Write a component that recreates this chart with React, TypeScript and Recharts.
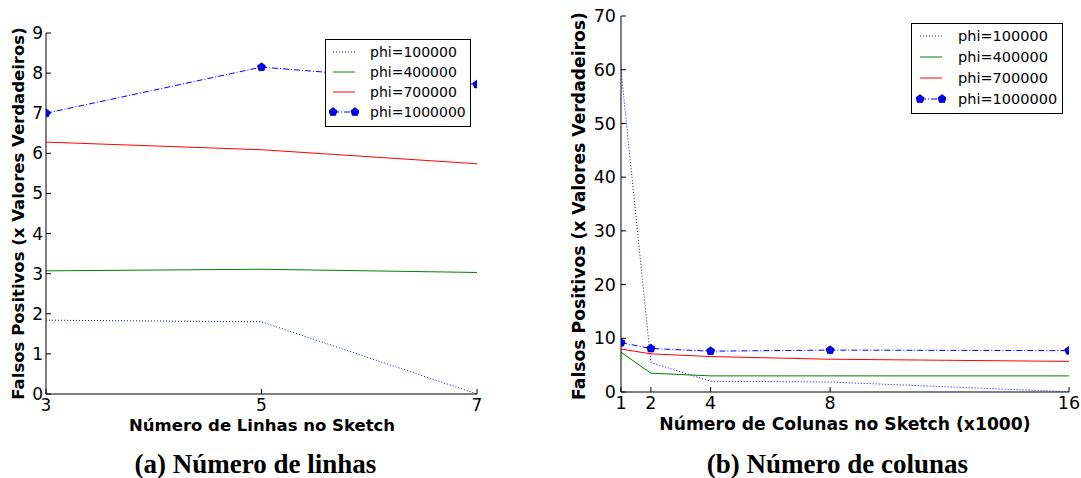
import { LineChart, Line, XAxis, YAxis, Legend } from 'recharts';

// ---- (a) Número de linhas ----
const linhas = [3, 5, 7];
const linhasPhi100k = [1.84, 1.8, 0.0];
const linhasPhi400k = [3.07, 3.11, 3.03];
const linhasPhi700k = [6.28, 6.09, 5.74];
const linhasPhi1M = [7.0, 8.15, 7.72];
const linhasYTicks = [0, 1, 2, 3, 4, 5, 6, 7, 8, 9];

// ---- (b) Número de colunas ----
const colunas = [1, 2, 4, 8, 16];
const colunasPhi100k = [60, 5.5, 2.0, 1.85, 0.05];
const colunasPhi400k = [7.4, 3.5, 3.0, 3.0, 3.0];
const colunasPhi700k = [8.0, 7.1, 6.6, 6.1, 5.7];
const colunasPhi1M = [9.2, 8.1, 7.6, 7.8, 7.7];
const colunasYTicks = [0, 10, 20, 30, 40, 50, 60, 70];

const seriesNames = ['phi=100000', 'phi=400000', 'phi=700000', 'phi=1000000'];

const FONT = '"DejaVu Sans", sans-serif';
const SERIF = '"Liberation Serif", "Times New Roman", serif';

const linhasData = linhas.map((x, i) => ({
  x,
  p100k: linhasPhi100k[i],
  p400k: linhasPhi400k[i],
  p700k: linhasPhi700k[i],
  p1M: linhasPhi1M[i],
}));

const colunasData = colunas.map((x, i) => ({
  x,
  p100k: colunasPhi100k[i],
  p400k: colunasPhi400k[i],
  p700k: colunasPhi700k[i],
  p1M: colunasPhi1M[i],
}));

function pentagonPoints(cx: number, cy: number, r: number) {
  return [0, 1, 2, 3, 4]
    .map((k) => {
      const a = ((-90 + k * 72) * Math.PI) / 180;
      return `${cx + r * Math.cos(a)},${cy + r * Math.sin(a)}`;
    })
    .join(' ');
}

function PentagonDot(props: any) {
  const { cx, cy, key } = props;
  if (cx == null || cy == null) return null;
  return (
    <polygon key={key} points={pentagonPoints(cx, cy, 4.4)} fill="#0000ff" stroke="#000040" strokeWidth={0.6} />
  );
}

/* legend sample: 30px wide svg, line runs 4..26 */
function Sample({ index }: { index: number }) {
  return (
    <svg width={30} height={12} style={{ display: 'block' }}>
      {index === 0 && <line x1={4} y1={6} x2={26} y2={6} stroke="#0000ff" strokeDasharray="1 2" />}
      {index === 1 && <line x1={4} y1={6} x2={26} y2={6} stroke="#008000" />}
      {index === 2 && <line x1={4} y1={6} x2={26} y2={6} stroke="#ff0000" />}
      {index === 3 && (
        <>
          <line x1={4} y1={6} x2={26} y2={6} stroke="#0000ff" strokeDasharray="6 2 1 2" />
          <polygon points={pentagonPoints(4, 6, 4.4)} fill="#0000ff" stroke="#000040" strokeWidth={0.6} />
          <polygon points={pentagonPoints(26, 6, 4.4)} fill="#0000ff" stroke="#000040" strokeWidth={0.6} />
        </>
      )}
    </svg>
  );
}

function LegendBox({ width, rowHeight, padTop, fontSize, padLeft, gap }: any) {
  return (
    <div
      style={{
        boxSizing: 'border-box',
        width,
        background: '#fff',
        border: '1px solid #000',
        paddingTop: padTop,
        paddingBottom: 4,
        paddingLeft: padLeft,
        fontFamily: FONT,
        fontSize,
        color: '#000',
      }}
    >
      {seriesNames.map((name, i) => (
        <div key={name} style={{ display: 'flex', alignItems: 'center', height: rowHeight }}>
          <Sample index={i} />
          <span style={{ marginLeft: gap, whiteSpace: 'nowrap' }}>{name}</span>
        </div>
      ))}
    </div>
  );
}

function SeriesLines() {
  return [
    <Line key="a" dataKey="p100k" stroke="#0000ff" strokeWidth={1} strokeDasharray="1 2" dot={false} isAnimationActive={false} />,
    <Line key="b" dataKey="p400k" stroke="#008000" strokeWidth={1} dot={false} isAnimationActive={false} />,
    <Line key="c" dataKey="p700k" stroke="#ff0000" strokeWidth={1} dot={false} isAnimationActive={false} />,
    <Line
      key="d"
      dataKey="p1M"
      stroke="#0000ff"
      strokeWidth={1}
      strokeDasharray="6 2 1 2"
      dot={PentagonDot}
      activeDot={false}
      isAnimationActive={false}
    />,
  ];
}

export default function App() {
  const tickStyleA = { fill: '#000', fontSize: 17, fontFamily: FONT };
  const tickStyleB = { fill: '#000', fontSize: 17.5, fontFamily: FONT };
  const blank = () => '';

  return (
    <div style={{ position: 'absolute', left: 0, top: 0, width: 1081, height: 478, background: '#fff', overflow: 'hidden' }}>
      {/* (a) */}
      <div style={{ position: 'absolute', left: 0, top: 0 }}>
        <LineChart width={540} height={478} data={linhasData} margin={{ top: 33, right: 63, left: 0, bottom: 54 }}>
          <XAxis
            dataKey="x"
            type="number"
            domain={[3, 7]}
            ticks={linhas}
            interval={0}
            allowDataOverflow
            height={30}
            tickSize={-5}
            tickMargin={10}
            stroke="#000"
            tick={tickStyleA}
          />
          <XAxis xAxisId="top" orientation="top" type="number" domain={[3, 7]} ticks={linhas} interval={0} height={0} tickSize={-5} tickFormatter={blank} stroke="#000" />
          <YAxis
            type="number"
            domain={[0, 9]}
            ticks={linhasYTicks}
            interval={0}
            allowDataOverflow
            width={46}
            tickSize={-5}
            tickMargin={8}
            stroke="#000"
            tick={tickStyleA}
          />
          <YAxis yAxisId="r" orientation="right" type="number" domain={[0, 9]} ticks={linhasYTicks} interval={0} width={0} tickSize={-5} tickFormatter={blank} stroke="#000" />
          {SeriesLines()}
          <Legend
            layout="vertical"
            align="center"
            verticalAlign="middle"
            wrapperStyle={{ position: 'absolute', left: 325, top: 39, width: 146 }}
            content={() => <LegendBox width={146} rowHeight={20} padTop={2} fontSize={14} padLeft={3} gap={11} />}
          />
        </LineChart>
      </div>

      {/* (b) */}
      <div style={{ position: 'absolute', left: 540, top: 0 }}>
        <LineChart width={541} height={478} data={colunasData} margin={{ top: 16, right: 12, left: 0, bottom: 56 }}>
          <XAxis
            dataKey="x"
            type="number"
            domain={[1, 16]}
            ticks={colunas}
            interval={0}
            allowDataOverflow
            height={30}
            tickSize={-5}
            tickMargin={10}
            stroke="#000"
            tick={tickStyleB}
          />
          <XAxis xAxisId="top" orientation="top" type="number" domain={[1, 16]} ticks={colunas} interval={0} height={0} tickSize={-5} tickFormatter={blank} stroke="#000" />
          <YAxis
            type="number"
            domain={[0, 70]}
            ticks={colunasYTicks}
            interval={0}
            allowDataOverflow
            width={81}
            tickSize={-5}
            tickMargin={10}
            stroke="#000"
            tick={tickStyleB}
          />
          <YAxis yAxisId="r" orientation="right" type="number" domain={[0, 70]} ticks={colunasYTicks} interval={0} width={0} tickSize={-5} tickFormatter={blank} stroke="#000" />
          {SeriesLines()}
          <Legend
            layout="vertical"
            align="center"
            verticalAlign="middle"
            wrapperStyle={{ position: 'absolute', left: 371, top: 23, width: 152 }}
            content={() => <LegendBox width={152} rowHeight={21} padTop={1} fontSize={14.5} padLeft={4} gap={12} />}
          />
        </LineChart>
      </div>

      {/* axis titles and captions */}
      <svg width={1081} height={478} style={{ position: 'absolute', left: 0, top: 0, pointerEvents: 'none' }}>
        <text x={262} y={431} textAnchor="middle" fontFamily={FONT} fontWeight="bold" fontSize={16.5}>
          Número de Linhas no Sketch
        </text>
        <text transform="translate(24,213.5) rotate(-90)" textAnchor="middle" fontFamily={FONT} fontWeight="bold" fontSize={16.5}>
          Falsos Positivos (x Valores Verdadeiros)
        </text>
        <text x={845} y={430} textAnchor="middle" fontFamily={FONT} fontWeight="bold" fontSize={17.2}>
          Número de Colunas no Sketch (x1000)
        </text>
        <text transform="translate(585,206) rotate(-90)" textAnchor="middle" fontFamily={FONT} fontWeight="bold" fontSize={17.2}>
          Falsos Positivos (x Valores Verdadeiros)
        </text>
        <text x={255.5} y={473} textAnchor="middle" fontFamily={SERIF} fontWeight="bold" fontSize={27}>
          (a) Número de linhas
        </text>
        <text x={837.5} y={473} textAnchor="middle" fontFamily={SERIF} fontWeight="bold" fontSize={27}>
          (b) Número de colunas
        </text>
      </svg>
    </div>
  );
}
